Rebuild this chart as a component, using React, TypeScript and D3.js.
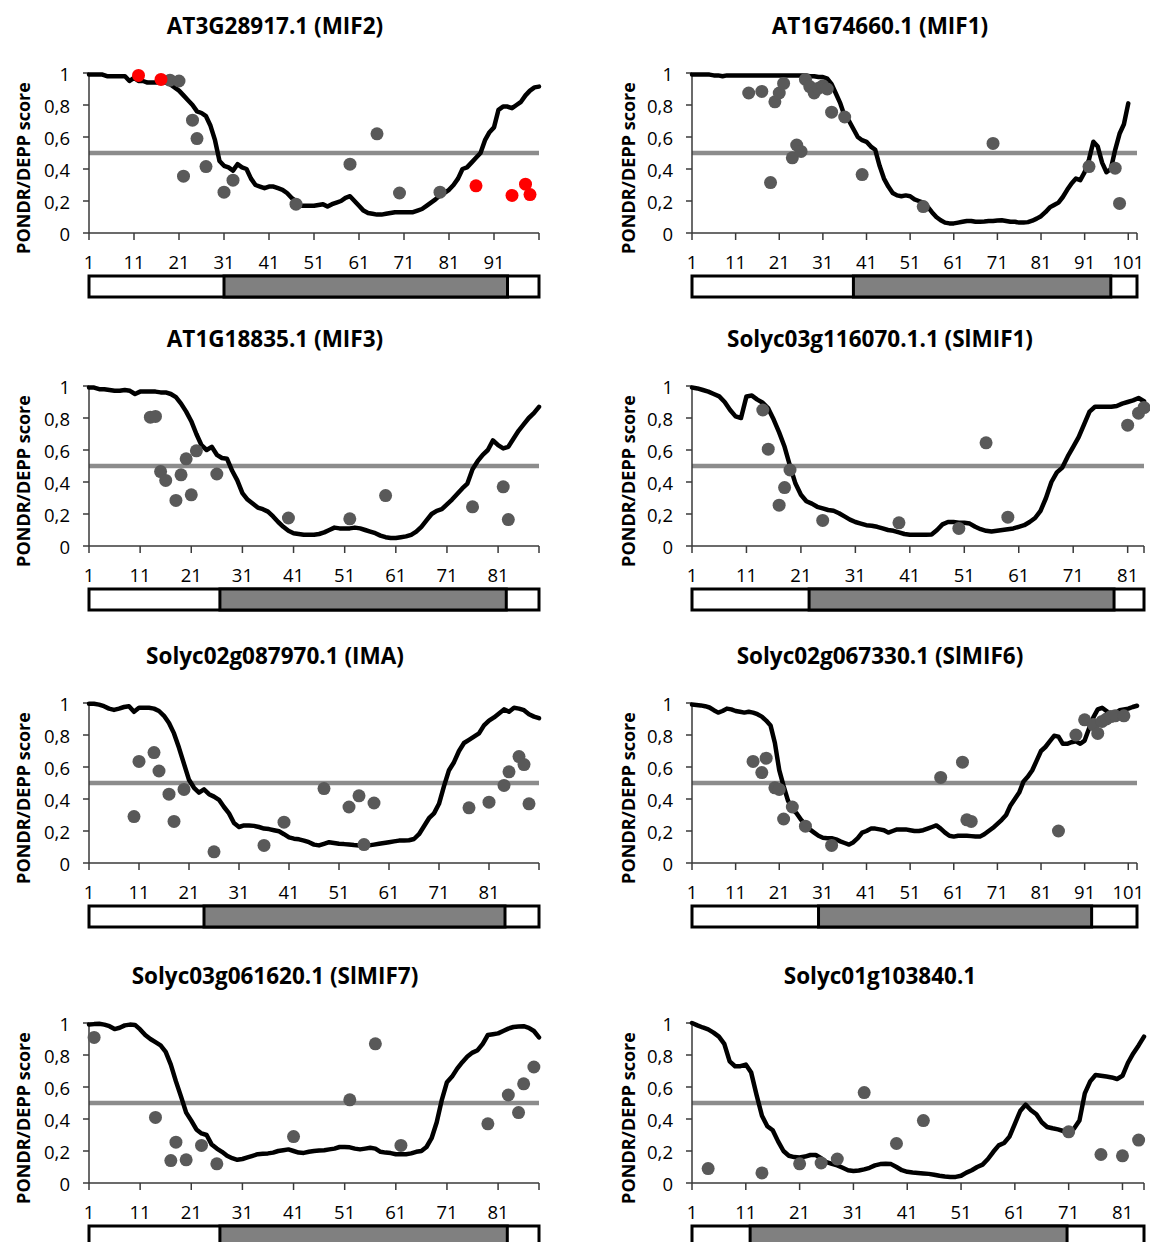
import React from "react";
import * as d3 from "d3";

const W = 1150;
const H = 1242;
const FONT = "'Open Sans', 'Liberation Sans', Arial, sans-serif";

// ---------- titles ----------
const TITLES = [
  "AT3G28917.1 (MIF2)",
  "AT1G74660.1 (MIF1)",
  "AT1G18835.1 (MIF3)",
  "Solyc03g116070.1.1 (SlMIF1)",
  "Solyc02g087970.1 (IMA)",
  "Solyc02g067330.1 (SlMIF6)",
  "Solyc03g061620.1 (SlMIF7)",
  "Solyc01g103840.1",
];

const Y_TICKS = [0, 0.2, 0.4, 0.6, 0.8, 1];
const Y_TICK_LABELS = ["0", "0,2", "0,4", "0,6", "0,8", "1"];
const TICKS_81 = [1, 11, 21, 31, 41, 51, 61, 71, 81];
const TICKS_91 = [1, 11, 21, 31, 41, 51, 61, 71, 81, 91];
const TICKS_101 = [1, 11, 21, 31, 41, 51, 61, 71, 81, 91, 101];
const THRESHOLD = 0.5;

// ---------- MIF2 ----------
const mif2Line = [
  0.99, 0.99, 0.99, 0.99, 0.98, 0.98, 0.98, 0.98, 0.98, 0.95,
  0.97, 0.95, 0.95, 0.94, 0.94, 0.94, 0.94, 0.94, 0.93, 0.91,
  0.89, 0.86, 0.83, 0.8, 0.76, 0.75, 0.73, 0.67, 0.58, 0.45,
  0.42, 0.41, 0.39, 0.43, 0.41, 0.4, 0.34, 0.3, 0.29, 0.28,
  0.29, 0.29, 0.28, 0.27, 0.25, 0.22, 0.2, 0.17, 0.17, 0.17,
  0.17, 0.175, 0.18, 0.165, 0.18, 0.19, 0.2, 0.22, 0.23, 0.2,
  0.17, 0.14, 0.125, 0.12, 0.115, 0.115, 0.12, 0.125, 0.13, 0.13,
  0.13, 0.13, 0.13, 0.14, 0.15, 0.17, 0.19, 0.21, 0.235, 0.25,
  0.27, 0.3, 0.34, 0.4, 0.41, 0.44, 0.47, 0.5, 0.58, 0.63,
  0.66, 0.77, 0.79, 0.79, 0.78, 0.8, 0.82, 0.86, 0.89, 0.91,
  0.915,
];
const mif2DotPos = [19, 21, 22, 24, 25, 27, 31, 33, 47, 59, 65, 70, 79];
const mif2DotVal = [0.955, 0.95, 0.355, 0.705, 0.59, 0.415, 0.255, 0.33, 0.18, 0.43, 0.62, 0.25, 0.255];
const mif2RedPos = [12, 17, 87, 95, 98, 99];
const mif2RedVal = [0.985, 0.96, 0.295, 0.235, 0.305, 0.24];
const mif2Domain = [31, 94];

// ---------- MIF1 ----------
const mif1Line = [
  0.99, 0.99, 0.99, 0.99, 0.99, 0.985, 0.985, 0.98, 0.985, 0.985,
  0.985, 0.985, 0.985, 0.985, 0.985, 0.985, 0.985, 0.985, 0.985, 0.985,
  0.985, 0.985, 0.985, 0.985, 0.985, 0.985, 0.985, 0.98, 0.98, 0.975,
  0.975, 0.965, 0.93, 0.87, 0.81, 0.73, 0.7, 0.65, 0.6, 0.58,
  0.57, 0.54, 0.52, 0.42, 0.34, 0.29, 0.25, 0.235, 0.23, 0.235,
  0.23, 0.21, 0.2, 0.19, 0.165, 0.13, 0.1, 0.08, 0.065, 0.06,
  0.06, 0.065, 0.07, 0.075, 0.075, 0.07, 0.07, 0.072, 0.075, 0.075,
  0.078, 0.08, 0.075, 0.07, 0.07, 0.065, 0.065, 0.068, 0.077, 0.09,
  0.105, 0.13, 0.16, 0.175, 0.19, 0.225, 0.27, 0.31, 0.34, 0.33,
  0.38, 0.46, 0.57, 0.54, 0.44, 0.38, 0.4, 0.52, 0.62, 0.68,
  0.81,
];
const mif1DotPos = [14, 17, 19, 20, 21, 22, 24, 25, 26, 27, 28, 29, 30, 31, 32, 33, 36, 40, 54, 70, 92, 98, 99];
const mif1DotVal = [0.875, 0.885, 0.315, 0.82, 0.875, 0.935, 0.47, 0.55, 0.51, 0.96, 0.915, 0.875, 0.905, 0.92, 0.9, 0.755, 0.725, 0.365, 0.165, 0.56, 0.415, 0.405, 0.185];
const mif1Domain = [38, 97];

// ---------- MIF3 ----------
const mif3Line = [
  0.99, 0.99, 0.98, 0.98, 0.975, 0.97, 0.97, 0.975, 0.97, 0.95,
  0.965, 0.965, 0.965, 0.965, 0.96, 0.96, 0.95, 0.93, 0.89, 0.84,
  0.78, 0.7, 0.63, 0.6, 0.62, 0.57, 0.55, 0.545, 0.47, 0.41,
  0.33, 0.29, 0.265, 0.24, 0.23, 0.215, 0.185, 0.15, 0.12, 0.095,
  0.08, 0.075, 0.07, 0.07, 0.07, 0.075, 0.085, 0.1, 0.115, 0.11,
  0.11, 0.11, 0.115, 0.11, 0.1, 0.09, 0.08, 0.065, 0.055, 0.05,
  0.05, 0.055, 0.06, 0.07, 0.09, 0.12, 0.16, 0.2, 0.22, 0.23,
  0.26, 0.29, 0.325, 0.36, 0.39, 0.48, 0.53, 0.57, 0.6, 0.66,
  0.63, 0.61, 0.62, 0.67, 0.72, 0.76, 0.8, 0.83, 0.87,
];
const mif3DotPos = [13, 14, 15, 16, 18, 19, 20, 21, 22, 26, 40, 52, 59, 76, 82, 83];
const mif3DotVal = [0.805, 0.81, 0.465, 0.41, 0.285, 0.445, 0.545, 0.32, 0.595, 0.45, 0.175, 0.17, 0.315, 0.245, 0.37, 0.165];
const mif3Domain = [26.6, 82.6];

// ---------- SlMIF1 ----------
const slmif1Line = [
  0.99, 0.985, 0.975, 0.965, 0.95, 0.935, 0.9, 0.85, 0.81, 0.8,
  0.935, 0.94, 0.915, 0.895, 0.86, 0.79, 0.71, 0.62, 0.5, 0.39,
  0.32, 0.28, 0.265, 0.245, 0.235, 0.225, 0.22, 0.205, 0.185, 0.165,
  0.15, 0.14, 0.13, 0.127, 0.12, 0.11, 0.1, 0.095, 0.085, 0.075,
  0.07, 0.07, 0.07, 0.07, 0.072, 0.1, 0.135, 0.15, 0.15, 0.145,
  0.145, 0.14, 0.12, 0.105, 0.095, 0.09, 0.095, 0.1, 0.105, 0.11,
  0.12, 0.13, 0.15, 0.175, 0.22, 0.3, 0.4, 0.46, 0.49, 0.56,
  0.62, 0.68, 0.76, 0.84, 0.87, 0.87, 0.87, 0.87, 0.875, 0.89,
  0.9, 0.91, 0.925, 0.905,
];
const slmif1DotPos = [14, 15, 17, 18, 19, 25, 39, 50, 55, 59, 81, 83, 84];
const slmif1DotVal = [0.85, 0.605, 0.255, 0.365, 0.475, 0.16, 0.145, 0.11, 0.645, 0.18, 0.755, 0.83, 0.865];
const slmif1Domain = [22.5, 78.5];

// ---------- IMA ----------
const imaLine = [
  0.995, 0.995, 0.99, 0.98, 0.965, 0.957, 0.965, 0.975, 0.98, 0.945,
  0.97, 0.97, 0.97, 0.965, 0.95, 0.92, 0.875, 0.81, 0.72, 0.62,
  0.52, 0.47, 0.44, 0.46, 0.43, 0.415, 0.395, 0.35, 0.31, 0.25,
  0.225, 0.235, 0.235, 0.232, 0.225, 0.215, 0.212, 0.205, 0.198, 0.18,
  0.16, 0.152, 0.148, 0.14, 0.13, 0.115, 0.11, 0.12, 0.13, 0.125,
  0.12, 0.118, 0.115, 0.112, 0.11, 0.11, 0.11, 0.115, 0.12, 0.125,
  0.13, 0.135, 0.14, 0.14, 0.142, 0.15, 0.18, 0.23, 0.28, 0.31,
  0.37, 0.48, 0.58, 0.63, 0.7, 0.75, 0.77, 0.79, 0.81, 0.86,
  0.89, 0.91, 0.935, 0.96, 0.945, 0.97, 0.965, 0.955, 0.93, 0.915,
  0.905,
];
const imaDotPos = [10, 11, 14, 15, 17, 18, 20, 26, 36, 40, 48, 53, 55, 56, 58, 77, 81, 84, 85, 87, 88, 89];
const imaDotVal = [0.29, 0.635, 0.69, 0.575, 0.43, 0.26, 0.46, 0.07, 0.11, 0.255, 0.465, 0.35, 0.42, 0.115, 0.375, 0.345, 0.38, 0.485, 0.57, 0.665, 0.615, 0.37];
const imaDomain = [24, 84.2];

// ---------- SlMIF6 ----------
const slmif6Line = [
  0.99, 0.988, 0.985, 0.98, 0.972, 0.955, 0.94, 0.95, 0.965, 0.96,
  0.95, 0.945, 0.94, 0.945, 0.94, 0.93, 0.915, 0.89, 0.86, 0.75,
  0.58, 0.48, 0.39, 0.335, 0.31, 0.27, 0.24, 0.21, 0.19, 0.17,
  0.158, 0.155, 0.155, 0.148, 0.135, 0.125, 0.115, 0.13, 0.155, 0.19,
  0.2, 0.215, 0.215, 0.21, 0.205, 0.19, 0.2, 0.21, 0.21, 0.21,
  0.205, 0.2, 0.2, 0.205, 0.215, 0.225, 0.235, 0.215, 0.19, 0.17,
  0.165, 0.17, 0.17, 0.17, 0.168, 0.165, 0.165, 0.18, 0.2, 0.22,
  0.245, 0.27, 0.3, 0.36, 0.4, 0.44, 0.51, 0.54, 0.58, 0.64,
  0.7, 0.725, 0.76, 0.795, 0.79, 0.745, 0.745, 0.755, 0.76, 0.745,
  0.765, 0.84, 0.91, 0.96, 0.97, 0.95, 0.925, 0.935, 0.955, 0.96,
  0.965, 0.975, 0.983,
];
const slmif6DotPos = [15, 17, 18, 20, 21, 22, 24, 27, 33, 58, 63, 64, 65, 85, 89, 91, 93, 94, 95, 96, 97, 98, 100];
const slmif6DotVal = [0.635, 0.565, 0.655, 0.47, 0.46, 0.275, 0.35, 0.23, 0.11, 0.535, 0.63, 0.27, 0.26, 0.2, 0.8, 0.895, 0.865, 0.81, 0.885, 0.9, 0.915, 0.92, 0.92];
const slmif6Domain = [30, 92.6];

// ---------- SlMIF7 ----------
const slmif7Line = [
  0.99, 0.993, 0.995, 0.99, 0.98, 0.962, 0.97, 0.985, 0.99, 0.988,
  0.96, 0.925, 0.9, 0.88, 0.86, 0.82, 0.74, 0.635, 0.54, 0.44,
  0.39, 0.335, 0.31, 0.3, 0.24, 0.215, 0.195, 0.17, 0.155, 0.145,
  0.15, 0.16, 0.17, 0.18, 0.183, 0.185, 0.19, 0.2, 0.205, 0.21,
  0.2, 0.19, 0.188, 0.195, 0.2, 0.203, 0.205, 0.21, 0.215, 0.225,
  0.225, 0.223, 0.215, 0.21, 0.215, 0.22, 0.215, 0.195, 0.19, 0.187,
  0.18, 0.18, 0.18, 0.185, 0.195, 0.2, 0.225, 0.28, 0.38, 0.52,
  0.63, 0.665, 0.715, 0.755, 0.79, 0.815, 0.83, 0.87, 0.925, 0.93,
  0.935, 0.95, 0.965, 0.975, 0.978, 0.98, 0.97, 0.95, 0.91,
];
const slmif7DotPos = [2, 14, 17, 18, 20, 23, 26, 41, 52, 57, 62, 79, 83, 85, 86, 88];
const slmif7DotVal = [0.91, 0.41, 0.14, 0.255, 0.145, 0.235, 0.12, 0.29, 0.52, 0.87, 0.235, 0.37, 0.55, 0.44, 0.62, 0.725];
const slmif7Domain = [26.6, 82.8];

// ---------- Solyc01g103840.1 ----------
const sol01Line = [
  1.0, 0.985, 0.972, 0.96, 0.94, 0.915, 0.87, 0.76, 0.73, 0.73,
  0.74, 0.69, 0.55, 0.42, 0.355, 0.33, 0.26, 0.2, 0.17, 0.162,
  0.16, 0.165, 0.175, 0.175, 0.155, 0.13, 0.12, 0.11, 0.095, 0.08,
  0.075, 0.078, 0.085, 0.095, 0.11, 0.118, 0.12, 0.118, 0.1, 0.08,
  0.07, 0.066, 0.063, 0.06, 0.057, 0.052, 0.045, 0.04, 0.038, 0.038,
  0.045, 0.065, 0.08, 0.1, 0.115, 0.15, 0.195, 0.235, 0.25, 0.29,
  0.37, 0.45, 0.49, 0.455, 0.43, 0.38, 0.35, 0.342, 0.335, 0.325,
  0.32, 0.34, 0.39, 0.56, 0.635, 0.675, 0.67, 0.665, 0.66, 0.65,
  0.67, 0.75, 0.81, 0.86, 0.915,
];
const sol01DotPos = [4, 14, 21, 25, 28, 33, 39, 44, 71, 77, 81, 84];
const sol01DotVal = [0.09, 0.063, 0.12, 0.125, 0.15, 0.565, 0.247, 0.39, 0.32, 0.178, 0.17, 0.268];
const sol01Domain = [11.8, 70.7];

// ---------- layout ----------
const ROW_Y1 = [73, 386, 703, 1023];
const PLOT_H = 160;
const COL_X0 = [89, 692];
const TITLE_X = [275, 880];
const AXIS_TITLE_X = [23, 628];

type PanelCfg = {
  title: string;
  col: number;
  row: number;
  line: number[];
  axisMax: number;
  x1: number;
  ticks: number[];
  dotPos: number[];
  dotVal: number[];
  redPos?: number[];
  redVal?: number[];
  domain: number[];
};

const PANELS: PanelCfg[] = [
  { title: TITLES[0], col: 0, row: 0, line: mif2Line, axisMax: 101, x1: 539, ticks: TICKS_91, dotPos: mif2DotPos, dotVal: mif2DotVal, redPos: mif2RedPos, redVal: mif2RedVal, domain: mif2Domain },
  { title: TITLES[1], col: 1, row: 0, line: mif1Line, axisMax: 103, x1: 1137, ticks: TICKS_101, dotPos: mif1DotPos, dotVal: mif1DotVal, domain: mif1Domain },
  { title: TITLES[2], col: 0, row: 1, line: mif3Line, axisMax: 89, x1: 539, ticks: TICKS_81, dotPos: mif3DotPos, dotVal: mif3DotVal, domain: mif3Domain },
  { title: TITLES[3], col: 1, row: 1, line: slmif1Line, axisMax: 84, x1: 1144, ticks: TICKS_81, dotPos: slmif1DotPos, dotVal: slmif1DotVal, domain: slmif1Domain },
  { title: TITLES[4], col: 0, row: 2, line: imaLine, axisMax: 91, x1: 539, ticks: TICKS_81, dotPos: imaDotPos, dotVal: imaDotVal, domain: imaDomain },
  { title: TITLES[5], col: 1, row: 2, line: slmif6Line, axisMax: 103, x1: 1137, ticks: TICKS_101, dotPos: slmif6DotPos, dotVal: slmif6DotVal, domain: slmif6Domain },
  { title: TITLES[6], col: 0, row: 3, line: slmif7Line, axisMax: 89, x1: 539, ticks: TICKS_81, dotPos: slmif7DotPos, dotVal: slmif7DotVal, domain: slmif7Domain },
  { title: TITLES[7], col: 1, row: 3, line: sol01Line, axisMax: 85, x1: 1144, ticks: TICKS_81, dotPos: sol01DotPos, dotVal: sol01DotVal, domain: sol01Domain },
];

const AXIS_COLOR = "#3a3a3a";
const DOT_COLOR = "#595959";
const RED = "#ff0000";
const THRESH_COLOR = "#8c8c8c";
const DOMAIN_FILL = "#808080";

function Panel({ p }: { p: PanelCfg }) {
  const x0 = COL_X0[p.col];
  const top = ROW_Y1[p.row];
  const x = d3.scaleLinear().domain([1, p.axisMax]).range([x0, p.x1]);
  const y = d3.scaleLinear().domain([0, 1]).range([top + PLOT_H, top]);
  const linePath = d3
    .line<number>()
    .x((_, i) => x(i + 1))
    .y((d) => y(d))(p.line) as string;
  const barTop = top + 203;
  const barH = 21;
  const xTickPos = [...p.ticks, p.axisMax];
  return (
    <g>
      <text
        x={TITLE_X[p.col]}
        y={top - 48}
        textAnchor="middle"
        dominantBaseline="central"
        fontWeight="bold"
        fontSize={22.5}
        fill="#000"
      >
        {p.title}
      </text>
      <text
        transform={`translate(${AXIS_TITLE_X[p.col]},${top + 95}) rotate(-90)`}
        textAnchor="middle"
        dominantBaseline="central"
        fontWeight="bold"
        fontSize={18}
        fill="#000"
      >
        PONDR/DEPP score
      </text>

      {/* threshold */}
      <line x1={x(1)} x2={x(p.axisMax)} y1={y(THRESHOLD)} y2={y(THRESHOLD)} stroke={THRESH_COLOR} strokeWidth={4.5} />

      {/* axes */}
      <line x1={x0} x2={x0} y1={y(0)} y2={y(1)} stroke={AXIS_COLOR} strokeWidth={1.5} />
      {Y_TICKS.map((t, i) => (
        <g key={"yt" + i}>
          <line x1={x0 - 6} x2={x0} y1={y(t)} y2={y(t)} stroke={AXIS_COLOR} strokeWidth={1.5} />
          <text x={x0 - 19} y={y(t)} textAnchor="end" dominantBaseline="central" fontSize={18.5} fill="#000">
            {Y_TICK_LABELS[i]}
          </text>
        </g>
      ))}
      <line x1={x0} x2={p.x1} y1={y(0)} y2={y(0)} stroke={AXIS_COLOR} strokeWidth={1.5} />
      {xTickPos.map((t, i) => (
        <line key={"xtm" + i} x1={x(t)} x2={x(t)} y1={y(0)} y2={y(0) + 7} stroke={AXIS_COLOR} strokeWidth={1.5} />
      ))}
      {p.ticks.map((t, i) => (
        <text key={"xt" + i} x={x(t)} y={y(0) + 28} textAnchor="middle" dominantBaseline="central" fontSize={18.5} fill="#000">
          {t}
        </text>
      ))}

      {/* disorder line */}
      <path d={linePath} fill="none" stroke="#000" strokeWidth={4.5} strokeLinejoin="round" strokeLinecap="round" />

      {/* dots */}
      {p.dotPos.map((r, i) => (
        <circle key={"d" + i} cx={x(r)} cy={y(p.dotVal[i])} r={6.5} fill={DOT_COLOR} />
      ))}
      {(p.redPos || []).map((r, i) => (
        <circle key={"r" + i} cx={x(r)} cy={y((p.redVal as number[])[i])} r={6.5} fill={RED} />
      ))}

      {/* domain bar */}
      <rect x={x0} y={barTop} width={p.x1 - x0} height={barH} fill="#fff" stroke="#000" strokeWidth={3} />
      <rect
        x={x(p.domain[0])}
        y={barTop}
        width={x(p.domain[1]) - x(p.domain[0])}
        height={barH}
        fill={DOMAIN_FILL}
        stroke="#000"
        strokeWidth={3}
      />
    </g>
  );
}

export default function App() {
  return (
    <svg
      width={W}
      height={H}
      viewBox={`0 0 ${W} ${H}`}
      style={{ position: "absolute", left: 0, top: 0, background: "#fff" }}
      fontFamily={FONT}
    >
      <rect x={0} y={0} width={W} height={H} fill="#fff" />
      {PANELS.map((p, i) => (
        <Panel key={i} p={p} />
      ))}
    </svg>
  );
}
